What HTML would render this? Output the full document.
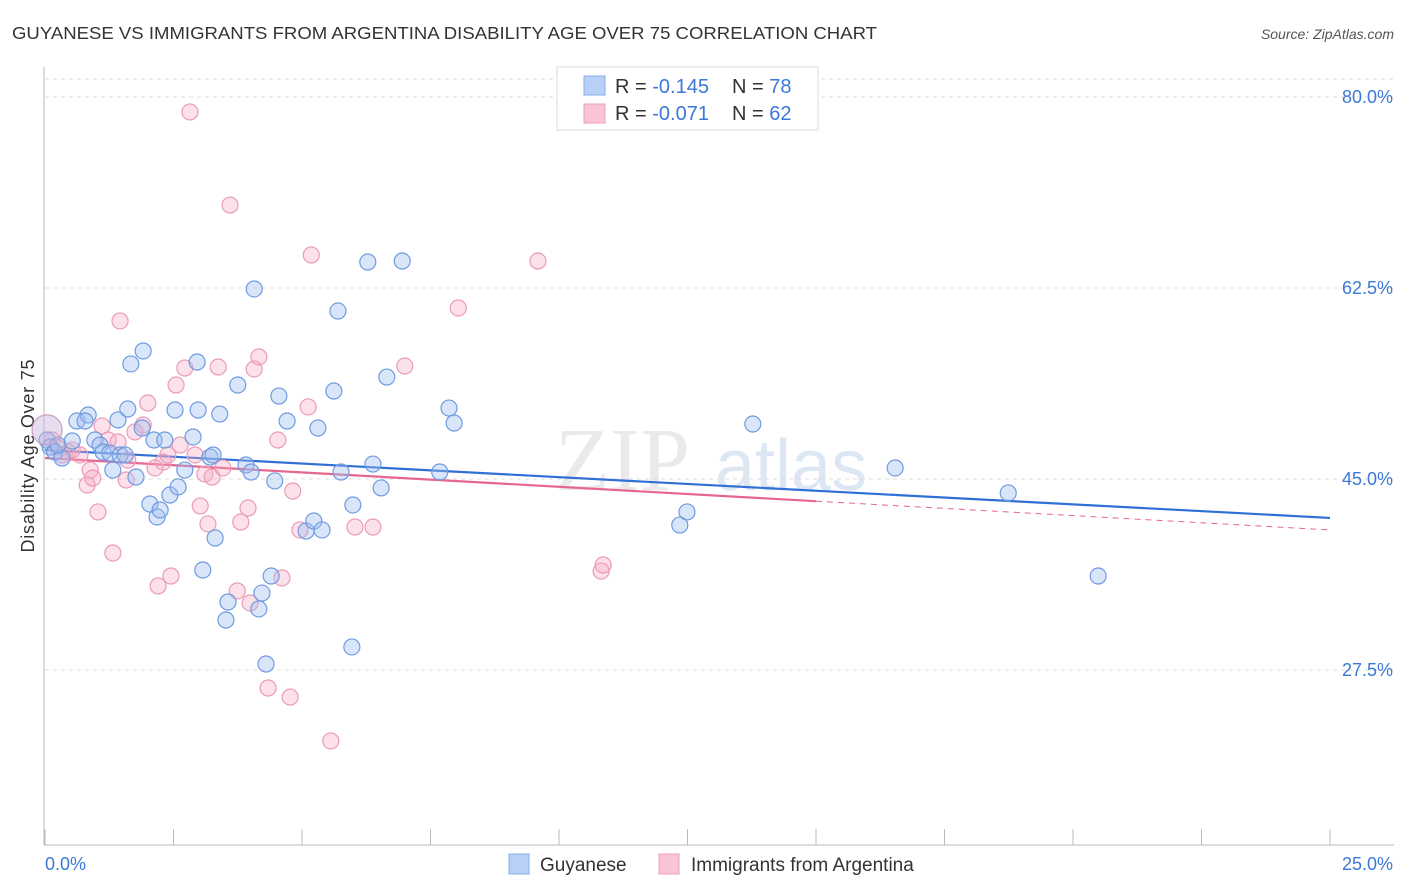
<!DOCTYPE html>
<html><head><meta charset="utf-8"><style>
body{margin:0;background:#fff;font-family:"Liberation Sans",sans-serif}
svg{display:block}
</style></head><body>
<svg id="chart" width="1406" height="892" xmlns="http://www.w3.org/2000/svg">
<text x="12" y="39" font-size="17.5" fill="#333" textLength="865" lengthAdjust="spacingAndGlyphs">GUYANESE VS IMMIGRANTS FROM ARGENTINA DISABILITY AGE OVER 75 CORRELATION CHART</text>
<text x="1394" y="39" font-size="14" fill="#555" font-style="italic" text-anchor="end">Source: ZipAtlas.com</text>
<text x="34" y="456" font-size="18" fill="#333" text-anchor="middle" textLength="193" transform="rotate(-90 34 456)">Disability Age Over 75</text>
<g><text x="555" y="490" font-size="90" fill="#ddd" font-family="Liberation Serif,serif" opacity="0.6">ZIP</text><text x="715" y="490" font-size="72" fill="#c8d8ee" opacity="0.6">atlas</text></g>
<g id="grid"></g><g id="axes"></g><g id="trend"></g><g id="pts"></g>
<g>
<rect x="557" y="67" width="261" height="63" fill="#fff" stroke="#ddd"/>
<rect x="584" y="76" width="21" height="19" fill="#b8d0f5" stroke="#86aee8"/>
<rect x="584" y="104" width="21" height="19" fill="#f9c4d4" stroke="#ee9fba"/>
<text x="615" y="93" font-size="20" fill="#333">R = <tspan fill="#3b78d8">-0.145</tspan><tspan x="732">N = </tspan><tspan fill="#3b78d8">78</tspan></text>
<text x="615" y="120" font-size="20" fill="#333">R = <tspan fill="#3b78d8">-0.071</tspan><tspan x="732">N = </tspan><tspan fill="#3b78d8">62</tspan></text>
</g>
<g>
<rect x="509" y="854" width="20" height="20" fill="#b8d0f5" stroke="#86aee8"/>
<text x="540" y="871" font-size="19" fill="#333">Guyanese</text>
<rect x="659" y="854" width="20" height="20" fill="#f9c4d4" stroke="#ee9fba"/>
<text x="691" y="871" font-size="19" fill="#333">Immigrants from Argentina</text>
</g>
</svg>
<script>
const yTicks=[80,62.5,45,27.5];
const yTickLabels=["80.0%","62.5%","45.0%","27.5%"];
const xTickCount=10;
const xLabels=["0.0%","25.0%"];
const blueX=[.04,.10,.19,.33,.25,.53,.62,.84,.78,.97,1.07,1.13,1.26,1.32,1.42,1.46,1.56,1.61,1.67,1.77,1.91,1.89,2.04,2.12,2.18,2.24,2.33,2.43,2.53,2.59,2.72,2.88,2.96,2.98,3.07,3.21,3.27,3.31,3.40,3.56,3.52,3.75,3.91,4.01,4.07,4.16,4.22,4.30,4.40,4.47,4.55,4.71,5.08,5.23,5.39,5.31,5.62,5.70,5.76,5.97,5.99,6.28,6.38,6.54,6.65,6.95,7.68,7.86,7.96,12.35,12.49,13.77,16.54,18.74,20.49];
const blueY=[48.57,47.93,47.47,46.92,48.11,48.48,50.31,50.86,50.31,48.57,48.11,47.47,47.38,45.82,50.41,47.20,47.20,51.41,55.54,45.18,56.73,49.67,42.71,48.57,41.52,42.16,48.57,43.53,51.32,44.27,45.82,48.85,55.72,51.32,36.66,47.01,47.20,39.59,50.95,33.73,32.08,53.61,46.28,45.64,62.41,33.09,34.55,28.05,36.11,44.82,52.60,50.31,40.23,41.15,40.33,49.67,53.06,60.39,45.64,29.61,42.62,64.88,46.37,44.18,54.34,64.97,45.64,51.50,50.13,40.78,41.98,50.04,46.01,43.72,36.11];
const pinkX=[.14,.23,.33,.45,.53,.68,.82,.88,.93,1.03,1.11,1.23,1.32,1.42,1.46,1.58,1.61,1.75,1.91,2.00,2.14,2.20,2.30,2.39,2.45,2.55,2.63,2.72,2.82,2.92,3.02,3.11,3.17,3.25,3.37,3.46,3.60,3.74,3.81,3.95,3.99,4.07,4.16,4.34,4.53,4.61,4.77,4.82,4.96,5.12,5.18,5.56,6.03,6.38,7.00,8.04,9.59,10.82,10.86];
const pinkY=[48.57,47.93,47.20,47.47,47.66,47.20,44.45,45.82,45.09,41.98,49.86,48.57,38.22,48.39,59.48,44.91,46.74,49.31,49.95,51.96,46.01,35.20,46.56,47.20,36.11,53.61,48.11,55.17,78.63,47.20,42.53,45.46,40.88,45.18,55.26,46.01,70.10,34.74,41.06,42.34,33.64,55.08,56.18,25.85,48.57,35.93,25.02,43.90,40.33,51.60,65.52,21.00,40.60,40.60,55.35,60.67,64.97,36.57,37.12];
const bigX=[0.04], bigY=[49.5];
const blueTrend=[47.66,41.43];
const pinkTrend=[46.92,40.33];
const pinkSolidEnd=15;
const NS="http://www.w3.org/2000/svg";
const sx=v=>45+v*51.4, sy=v=>97+(80-v)*10.914;
function mk(tag,attrs,parent){const e=document.createElementNS(NS,tag);for(const k in attrs)e.setAttribute(k,attrs[k]);document.getElementById(parent).appendChild(e);return e;}
yTicks.forEach((t,i)=>{
 const l=mk('line',{x1:45,x2:1394,y1:sy(t),y2:sy(t),stroke:'#ddd','stroke-dasharray':'4,4'},'grid');
 
 
 const tx=mk('text',{x:1393,y:sy(t)+6,'font-size':18,fill:'#3b78d8','text-anchor':'end'},'axes');
 tx.textContent=yTickLabels[i];
 
 
});
mk('line',{x1:45,x2:1394,y1:79,y2:79,stroke:'#ddd','stroke-dasharray':'4,4'},'grid');
mk('line',{x1:44,x2:44,y1:67,y2:845,stroke:'#bbb'},'axes');
mk('line',{x1:44,x2:1394,y1:845,y2:845,stroke:'#bbb'},'axes');
for(let i=0;i<=xTickCount;i++){const x=sx(i*2.5);const t=mk('line',{x1:x,x2:x,y1:829,y2:845,stroke:'#bbb'},'axes');
 
 }
let a=mk('text',{x:45,y:870,'font-size':18,fill:'#3b78d8'},'axes');a.textContent=xLabels[0];


let b=mk('text',{x:1393,y:870,'font-size':18,fill:'#3b78d8','text-anchor':'end'},'axes');b.textContent=xLabels[1];


function dots(X,Y,fill,stroke,r,name){X.forEach((x,i)=>{const c=mk('circle',{cx:sx(x),cy:sy(Y[i]),r:r,fill:fill,stroke:stroke,'stroke-width':1.2},'pts');
 
 });}
dots(pinkX,pinkY,'rgba(245,170,195,0.35)','#eb9ab7',8,'argentina-point');
dots(blueX,blueY,'rgba(160,190,240,0.4)','#6f9be0',8,'guyanese-point');
dots(bigX,bigY,'rgba(200,180,220,0.45)','#c9a0c8',15,'cluster-point');
const bt=mk('line',{x1:sx(0),y1:sy(blueTrend[0]),x2:sx(25),y2:sy(blueTrend[1]),stroke:'#2f6fd6','stroke-width':2.2},'trend');


const pm=(pinkTrend[1]-pinkTrend[0])/25, pe=pinkTrend[0]+pm*pinkSolidEnd;
const pt=mk('line',{x1:sx(0),y1:sy(pinkTrend[0]),x2:sx(pinkSolidEnd),y2:sy(pe),stroke:'#e5668f','stroke-width':2.2},'trend');


const pd=mk('line',{x1:sx(pinkSolidEnd),y1:sy(pe),x2:sx(25),y2:sy(pinkTrend[1]),stroke:'#e5668f','stroke-width':1,'stroke-dasharray':'6,5'},'trend');


</script>
</body></html>
